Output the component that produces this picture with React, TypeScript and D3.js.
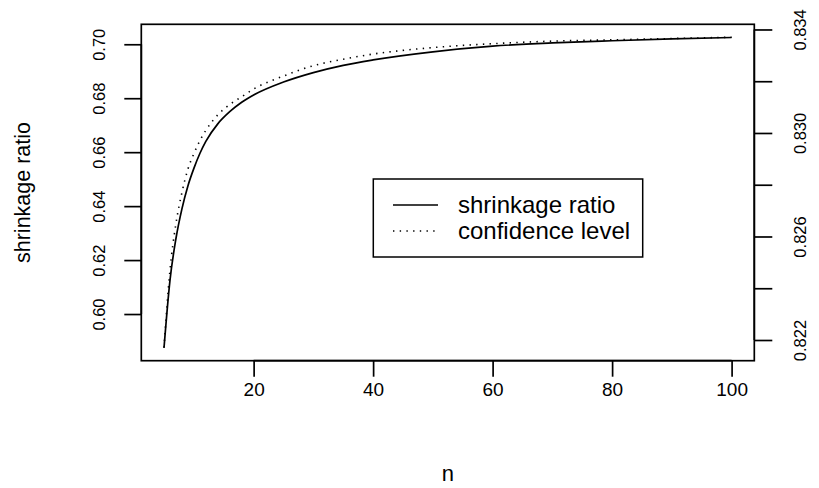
import React, { useEffect, useRef } from "react";
import * as d3 from "d3";

// values
const nValues = [5, 6, 7, 8, 9, 10, 11, 12, 14, 16, 18, 20, 25, 30, 35, 40, 50, 60, 70, 80, 90, 100];
const shrinkage = [0.5875, 0.6125, 0.628, 0.639, 0.6475, 0.654, 0.6595, 0.664, 0.6705, 0.675, 0.6785, 0.6812, 0.686, 0.6895, 0.6922, 0.6942, 0.6972, 0.6993, 0.7005, 0.7013, 0.702, 0.7025];
const confidence = [0.8217, 0.8247, 0.8265, 0.8277, 0.8286, 0.8292, 0.8297, 0.8301, 0.8307, 0.8311, 0.8314, 0.8317, 0.8322, 0.8326, 0.83285, 0.83305, 0.8333, 0.83345, 0.83355, 0.8336, 0.83365, 0.8337];
const xTicks = [20, 40, 60, 80, 100];
const leftTicks = [0.6, 0.62, 0.64, 0.66, 0.68, 0.7];
const rightTicks = [0.822, 0.824, 0.826, 0.828, 0.83, 0.832, 0.834];
const rightLabels = [0.822, 0.826, 0.83, 0.834];
const legendLabels = ["shrinkage ratio", "confidence level"];

const FONT = "'Liberation Sans', Arial, Helvetica, sans-serif";

function Chart({ width = 819, height = 488 }) {
  const ref = useRef<SVGSVGElement | null>(null);

  useEffect(() => {
    const svg = d3.select(ref.current);
    svg.selectAll("*").remove();

    const box = { left: 141.3, right: 754.3, top: 24.3, bottom: 360.7 };

    const x = d3.scaleLinear().domain([1.2, 103.8]).range([box.left, box.right]);
    const yL = d3.scaleLinear().domain([0.5827, 0.7074]).range([box.bottom, box.top]);
    const yR = d3.scaleLinear().domain([0.8212, 0.8342]).range([box.bottom, box.top]);

    const g = svg.append("g");

    // curves
    const lineL = d3.line<number>().x((d, i) => x(nValues[i])).y(d => yL(d)).curve(d3.curveMonotoneX);
    const lineR = d3.line<number>().x((d, i) => x(nValues[i])).y(d => yR(d)).curve(d3.curveMonotoneX);

    g.append("path").datum(shrinkage).attr("d", lineL)
      .attr("fill", "none").attr("stroke", "#000").attr("stroke-width", 1.7);
    g.append("path").datum(confidence).attr("d", lineR)
      .attr("fill", "none").attr("stroke", "#000").attr("stroke-width", 1.6)
      .attr("stroke-dasharray", "1.4 5.3");

    // box
    g.append("rect")
      .attr("x", box.left).attr("y", box.top)
      .attr("width", box.right - box.left).attr("height", box.bottom - box.top)
      .attr("fill", "none").attr("stroke", "#000").attr("stroke-width", 1.7);

    // bottom axis
    const xa = g.append("g").attr("transform", `translate(0,${box.bottom})`)
      .call(d3.axisBottom(x).tickValues(xTicks).tickSize(16).tickPadding(6).tickFormat(d3.format("d")));
    xa.select(".domain").attr("stroke-width", 1.7).attr("d", `M${x(20)},0H${x(100)}`);
    xa.selectAll(".tick line").attr("stroke-width", 1.7);
    xa.selectAll("text").attr("font-family", FONT).attr("font-size", 19).attr("fill", "#000");

    // left axis
    const la = g.append("g").attr("transform", `translate(${box.left},0)`)
      .call(d3.axisLeft(yL).tickValues(leftTicks).tickSize(17).tickFormat(d3.format(".2f")));
    la.select(".domain").attr("stroke-width", 1.7).attr("d", `M0,${yL(0.6)}V${yL(0.7)}`);
    la.selectAll(".tick line").attr("stroke-width", 1.7);
    la.selectAll("text")
      .attr("font-family", FONT).attr("font-size", 16.5).attr("fill", "#000")
      .attr("x", null).attr("dy", null)
      .attr("text-anchor", "middle")
      .attr("transform", "translate(-36,0) rotate(-90)");

    // right axis
    const ra = g.append("g").attr("transform", `translate(${box.right},0)`)
      .call(d3.axisRight(yR).tickValues(rightTicks).tickSize(18)
        .tickFormat(d => (rightLabels.some(v => Math.abs(v - +d) < 1e-9) ? d3.format(".3f")(+d) : "")));
    ra.select(".domain").attr("stroke-width", 1.7).attr("d", `M0,${yR(0.822)}V${yR(0.834)}`);
    ra.selectAll(".tick line").attr("stroke-width", 1.7);
    ra.selectAll("text")
      .attr("font-family", FONT).attr("font-size", 16.5).attr("fill", "#000")
      .attr("x", null).attr("dy", null)
      .attr("text-anchor", "middle")
      .attr("transform", "translate(52,0) rotate(-90)");

    // axis titles
    g.append("text").text("n")
      .attr("x", (box.left + box.right) / 2).attr("y", 481)
      .attr("text-anchor", "middle").attr("font-family", FONT).attr("font-size", 22);
    g.append("text").text("shrinkage ratio")
      .attr("transform", `translate(30,${(box.top + box.bottom) / 2}) rotate(-90)`)
      .attr("text-anchor", "middle").attr("font-family", FONT).attr("font-size", 21.5);

    // legend
    const lg = g.append("g");
    lg.append("rect").attr("x", 373.3).attr("y", 179).attr("width", 269.4).attr("height", 78)
      .attr("fill", "#fff").attr("stroke", "#000").attr("stroke-width", 1.5);
    legendLabels.forEach((label, i) => {
      const yy = 205 + i * 26;
      lg.append("line").attr("x1", 393).attr("x2", 438).attr("y1", yy).attr("y2", yy)
        .attr("stroke", "#000").attr("stroke-width", i === 0 ? 1.7 : 1.6)
        .attr("stroke-dasharray", i === 0 ? null : "1.4 5.3");
      lg.append("text").text(label).attr("x", 458).attr("y", yy + 7.5)
        .attr("font-family", FONT).attr("font-size", 24);
    });
  }, []);

  return <svg ref={ref} width={width} height={height} style={{ position: "absolute", left: 0, top: 0, background: "#fff" }} />;
}

export default function App() {
  return <Chart />;
}
